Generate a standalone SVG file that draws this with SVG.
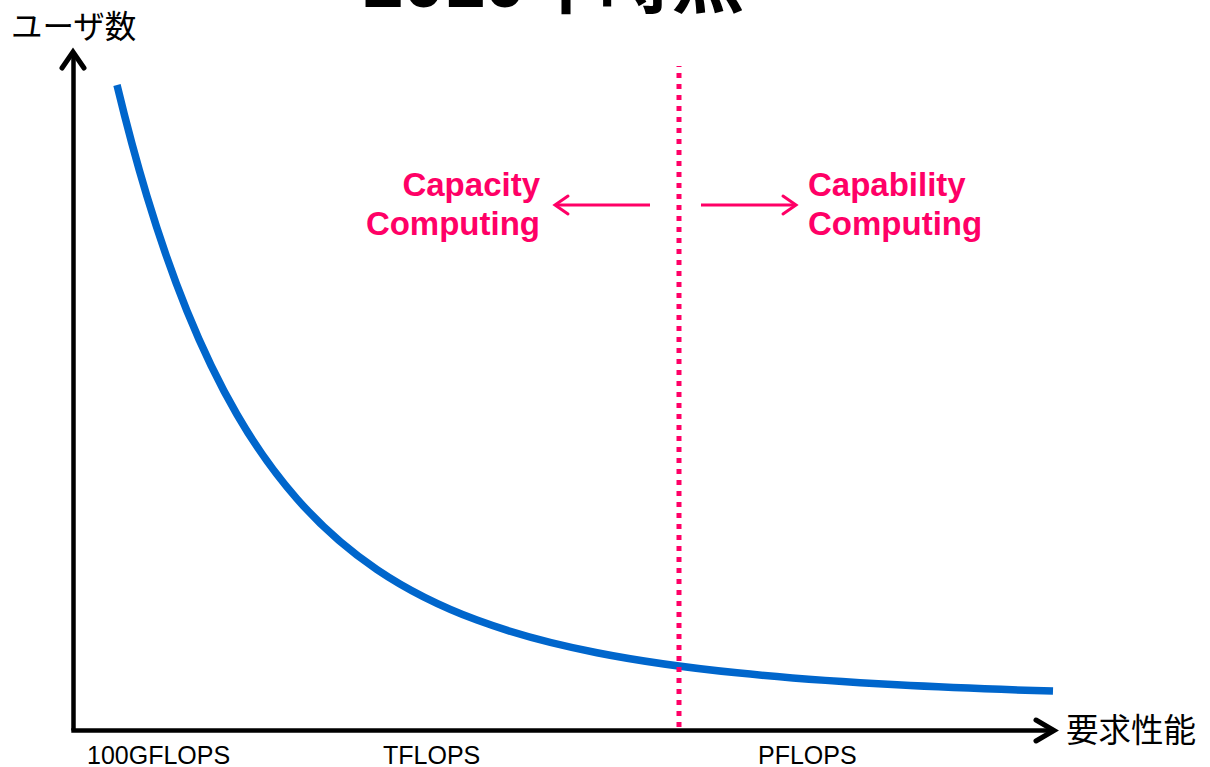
<svg xmlns="http://www.w3.org/2000/svg" width="1210" height="767" viewBox="0 0 1210 767">
  <style>
    .jp { font-family: "Liberation Sans", "Noto Sans CJK JP", sans-serif; fill: #000; }
    .tick { font-family: "Liberation Sans", Arial, sans-serif; font-size: 25px; fill: #000; }
    .zone { font-family: "Liberation Sans", Arial, sans-serif; font-size: 33px; font-weight: bold; fill: #FF0066; }
    .axis { stroke: #000; stroke-width: 4.5; fill: none; }
    .axis-head { stroke: #000; stroke-width: 5; fill: none; stroke-linecap: round; stroke-linejoin: miter; }
    .pink { stroke: #FF0066; stroke-width: 3; fill: none; }
    .pink-head { stroke: #FF0066; stroke-width: 3; fill: none; stroke-linecap: round; stroke-linejoin: miter; }
  </style>
  <rect width="1210" height="767" fill="#ffffff"/>

  <!-- title, clipped by the top edge -->
  <g id="title">
    <text class="jp" x="363" y="7" font-size="73" font-weight="bold">2010年時点</text>
  </g>

  <!-- axes -->
  <g id="axes">
    <line class="axis" x1="73.5" y1="730.5" x2="73.5" y2="52"/>
    <polyline class="axis-head" points="62,68 73,52 84,68"/>
    <line class="axis" x1="71.3" y1="730.5" x2="1053" y2="730.5"/>
    <polyline class="axis-head" points="1036,720 1054,730.5 1036,741"/>
  </g>

  <g id="y-label">
    <text class="jp" x="11" y="38" font-size="31.5">ユーザ数</text>
  </g>
  <g id="x-label">
    <text class="jp" x="1066" y="742" font-size="32.5">要求性能</text>
  </g>

  <g id="ticks">
    <text class="tick" x="87" y="764">100GFLOPS</text>
    <text class="tick" x="383" y="764">TFLOPS</text>
    <text class="tick" x="758" y="764">PFLOPS</text>
  </g>

  <!-- demand curve: y = 700 - 419·e^(-u/120) - 196·e^(-u/300), u = x - 117 -->
  <g id="curve">
    <path fill="none" stroke="#0066CC" stroke-width="7.5" d="M117,85 C127,126.45 137,163.3 147,196.4 C160.33,240.5 173.67,278.1 187,311 C203.67,352.1 220.33,385.8 237,414.5 C257,449 277,476.1 297,498.9 C323.67,529.2 350.33,551.6 377,569.6 C410.33,592.1 443.67,607.7 477,620.1 C517,634.9 557,644.9 597,652.7 C643.67,661.9 690.33,668 737,672.8 C790.33,678.3 843.67,681.9 897,684.8 C949,687.6 1001,689.5 1053,691.1"/>
  </g>

  <!-- boundary between capacity and capability -->
  <g id="boundary">
    <line x1="679" y1="66" x2="679" y2="729" stroke="#FF0066" stroke-width="5" stroke-dasharray="5 6" stroke-dashoffset="4"/>
  </g>

  <g id="connectors">
    <line class="pink" x1="650" y1="205" x2="556" y2="205"/>
    <polyline class="pink-head" points="568,196 555,205 568,214"/>
    <line class="pink" x1="701" y1="205" x2="795" y2="205"/>
    <polyline class="pink-head" points="783,196 796,205 783,214"/>
  </g>

  <g id="capacity">
    <text class="zone" x="540" y="196" text-anchor="end">Capacity</text>
    <text class="zone" x="540" y="235" text-anchor="end">Computing</text>
  </g>
  <g id="capability">
    <text class="zone" x="808" y="196">Capability</text>
    <text class="zone" x="808" y="235">Computing</text>
  </g>
</svg>
